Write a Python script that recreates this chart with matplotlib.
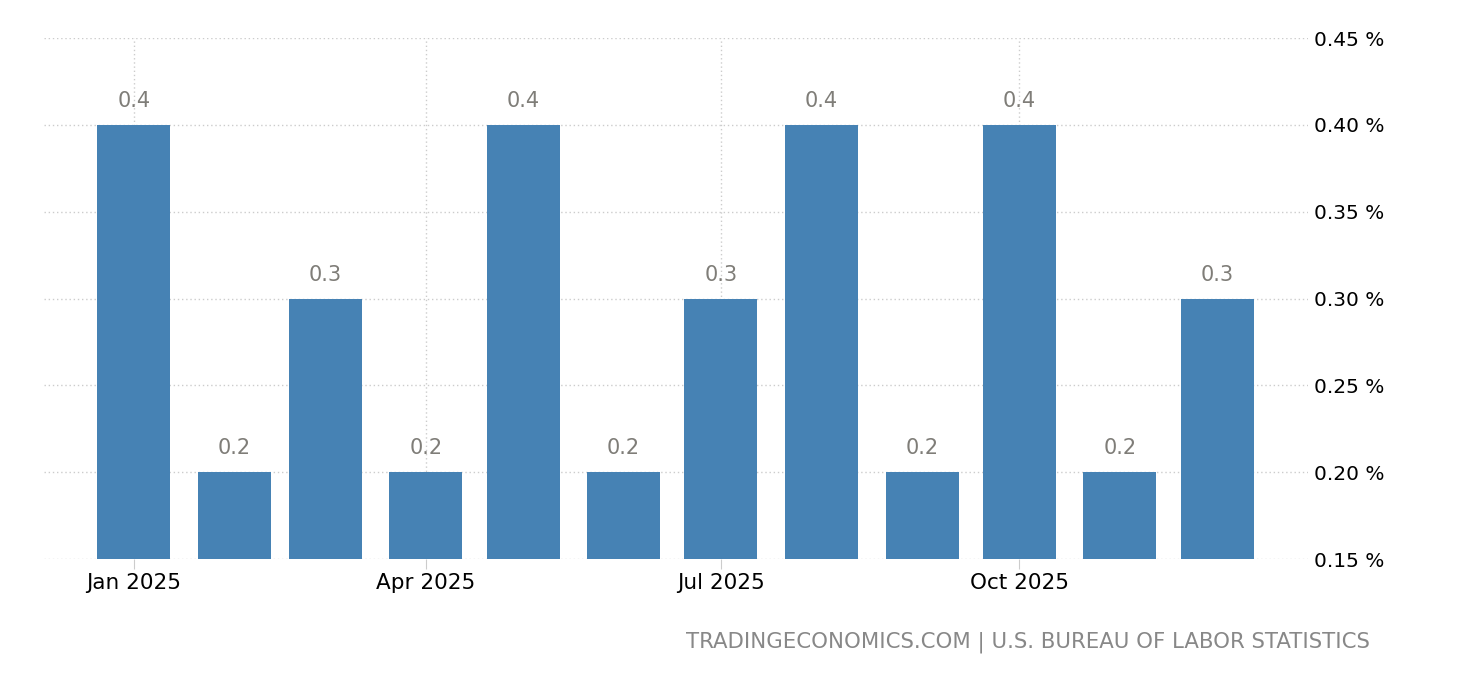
import matplotlib.pyplot as plt
import matplotlib.dates as mdates
import matplotlib.ticker as mticker
import pandas as pd

months = ["2025-01-01", "2025-02-01", "2025-03-01", "2025-04-01", "2025-05-01", "2025-06-01",
          "2025-07-01", "2025-08-01", "2025-09-01", "2025-10-01", "2025-11-01", "2025-12-01"]
values = [0.4, 0.2, 0.3, 0.2, 0.4, 0.2, 0.3, 0.4, 0.2, 0.4, 0.2, 0.3]
tick_dates = ["2025-01-01", "2025-04-01", "2025-07-01", "2025-10-01"]
tick_labels = ["Jan 2025", "Apr 2025", "Jul 2025", "Oct 2025"]
y_ticks = [0.15, 0.20, 0.25, 0.30, 0.35, 0.40, 0.45]
source = "TRADINGECONOMICS.COM | U.S. BUREAU OF LABOR STATISTICS"

BAR_COLOR = "#4682b4"
LABEL_GRAY = "#7f7d78"
GRID_COLOR = "#cccccc"
BASE = 0.15

dates = pd.to_datetime(months)
x = mdates.date2num(dates)

fig = plt.figure(figsize=(14.6, 6.8), dpi=100)
ax = fig.add_axes([0.0301, 0.1779, 0.8658, 0.7662])

heights = [v - BASE for v in values]
ax.bar(x, heights, bottom=BASE, width=22.5, color=BAR_COLOR, zorder=3)

for xi, v in zip(x, values):
    ax.annotate(f"{v:.1f}", (xi, v), xytext=(0, 10), textcoords="offset points",
                ha="center", va="bottom", fontsize=15, color=LABEL_GRAY, zorder=4)

start = mdates.date2num(pd.Timestamp("2025-01-01"))
ax.set_xlim(start - 27.7, start + 362)
ax.set_ylim(0.15, 0.45)

ax.set_xticks(mdates.date2num(pd.to_datetime(tick_dates)))
ax.set_xticklabels(tick_labels)
ax.set_yticks(y_ticks)
ax.yaxis.set_major_formatter(mticker.FuncFormatter(lambda v, _: f"{v:.2f} %"))
ax.yaxis.tick_right()

ax.tick_params(axis="x", length=7, color=GRID_COLOR, labelsize=15.5, pad=3, labelcolor="black")
ax.tick_params(axis="y", length=0, labelsize=14.5, pad=4, labelcolor="black")

ax.grid(True, linestyle=(0, (1, 2)), color=GRID_COLOR, linewidth=1, zorder=0)
for spine in ax.spines.values():
    spine.set_visible(False)

fig.text(1370 / 1460, 1 - 642 / 680, source, ha="right", va="center",
         fontsize=15.3, color="#888888")

fig.savefig("out.png", dpi=100)
